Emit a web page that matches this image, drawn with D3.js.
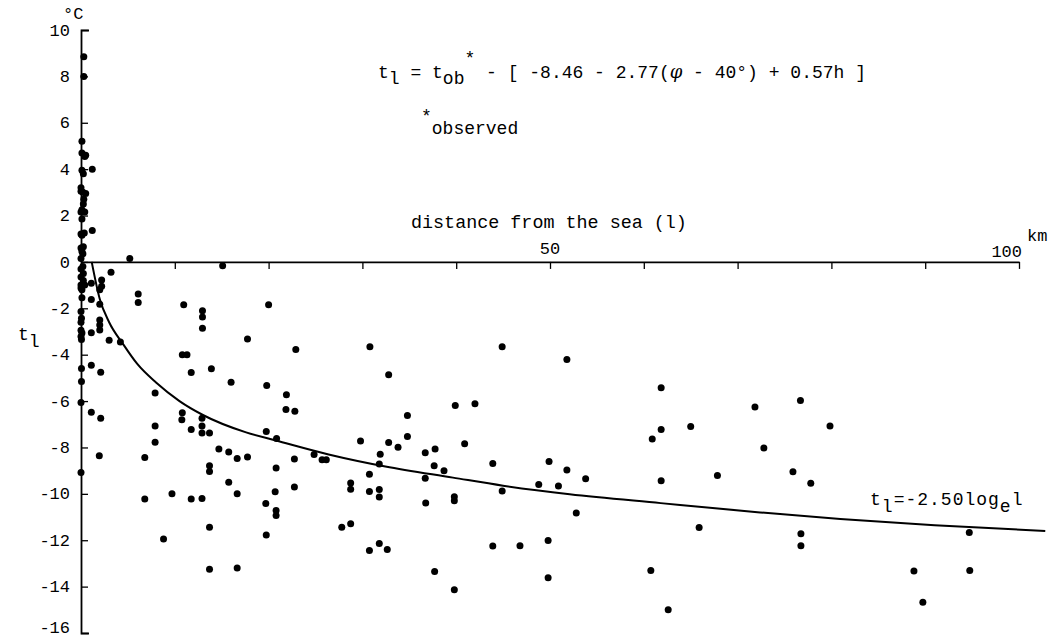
<!DOCTYPE html>
<html>
<head>
<meta charset="utf-8">
<script src="https://cdn.jsdelivr.net/npm/d3@7/dist/d3.min.js"></script>
<style>
  body { margin: 0; background: #fff; }
  text { font-family: "Courier New", "Liberation Mono", monospace; fill: #000; }
</style>
</head>
<body>
<div id="grafico"></div>
<script>
// temperatura reducida t_l vs distancia al mar

const ancho = 1057;
const alto = 639;

// ticks
const ticksX = [0, 10, 20, 30, 40, 50, 60, 70, 80, 90, 100];
const ticksY = [10, 8, 6, 4, 2, 0, -2, -4, -6, -8, -10, -12, -14, -16];
const etiquetasY = ["10", "8", "6", "4", "2", "0", "-2", "-4", "-6", "-8", "-10", "-12", "-14", "-16"];

// estaciones [km, °C]
const puntosCosta = [
  [0.3, 8.85], [0.3, 8.0], [0.1, 5.2], [0.1, 4.7], [0.4, 4.55], [0.5, 4.6], [1.2, 4.0], [0.1, 3.95],
  [0.25, 3.8], [0, 3.2], [0, 3.05], [0.2, 3.0], [0.5, 2.95], [0.3, 2.7], [0.25, 2.5], [0.1, 2.25],
  [0, 2.15], [0.4, 2.15], [0.1, 1.85], [1.2, 1.35], [0, 1.2], [0.1, 1.15], [0.35, 1.25], [0, 0.6],
  [0.25, 0.65], [0.1, 0.45], [0.2, 0.35], [0, 0.15], [5.2, 0.15],
  [0.2, -0.2], [0, -0.3], [0.25, -0.5], [0, -0.65], [0.25, -0.8], [0, -1.0], [0, -1.12], [0.4, -1.0],
  [0.1, -1.2], [1.1, -0.92], [2.2, -0.78], [2.2, -1.05], [2.0, -1.2], [3.2, -0.45], [0.1, -1.55],
  [1.1, -1.62], [2.0, -1.82], [0, -2.14], [0.05, -2.43], [0, -2.6], [2.0, -2.5], [2.0, -2.72],
  [2.0, -2.93], [0, -2.95], [0.1, -3.07], [0, -3.22], [0.05, -3.35], [1.1, -3.05], [3.0, -3.38],
  [4.2, -3.45], [0.05, -4.6], [1.1, -4.45], [2.1, -4.76], [0.05, -5.16], [0, -6.06], [1.1, -6.48],
  [2.1, -6.74], [1.95, -8.36], [0, -9.08], [6.1, -1.38], [6.1, -1.75]
];

const puntosCerca = [
  [6.8, -8.43], [6.8, -10.22], [7.9, -5.65], [7.9, -7.08], [7.9, -7.77], [9.7, -10.0], [8.8, -11.95],
  [10.8, -4.0], [11.3, -4.0], [11.75, -4.77], [10.8, -6.5], [10.75, -6.8], [11.75, -7.23], [11.75, -10.22],
  [10.95, -1.85], [12.95, -2.11], [12.95, -2.38], [12.95, -2.86], [15.1, -0.16], [17.75, -3.32],
  [20.0, -1.85], [22.9, -3.78], [13.9, -4.61], [16.0, -5.19], [19.8, -5.33], [21.9, -5.73],
  [21.85, -6.36], [22.8, -6.44], [12.9, -6.74], [12.9, -7.07], [12.9, -7.38], [13.7, -7.38],
  [19.75, -7.31], [20.85, -7.61], [14.7, -8.07], [15.75, -8.2], [16.65, -8.48], [17.75, -8.41],
  [22.75, -8.5], [24.85, -8.3], [25.7, -8.53], [26.15, -8.53], [20.8, -8.89], [13.7, -8.79],
  [13.7, -9.04], [15.75, -9.5], [22.75, -9.7], [16.65, -10.0], [20.7, -9.91], [12.9, -10.2],
  [19.7, -10.42], [20.8, -10.72], [20.8, -10.93], [13.7, -11.44], [19.75, -11.77], [13.7, -13.25],
  [16.65, -13.2]
];

const puntosMedio = [
  [30.8, -3.66], [32.8, -4.86], [44.9, -3.66], [51.8, -4.21], [39.9, -6.19], [42.0, -6.12],
  [34.8, -6.62], [34.8, -7.53], [29.8, -7.72], [32.8, -7.79], [33.8, -7.99], [40.9, -7.84],
  [31.9, -8.29], [36.7, -8.23], [37.75, -8.07], [31.8, -8.71], [37.65, -8.79], [38.7, -9.0],
  [43.9, -8.69], [49.9, -8.61], [51.8, -8.97], [30.75, -9.15], [28.75, -9.53], [28.75, -9.8],
  [30.75, -9.9], [31.8, -9.81], [31.8, -10.14], [36.7, -9.33], [36.75, -10.39], [39.8, -10.12],
  [39.8, -10.3], [44.9, -9.88], [48.8, -9.6], [50.9, -9.66], [27.8, -11.44], [28.75, -11.29],
  [30.75, -12.44], [31.8, -12.14], [32.65, -12.4], [43.9, -12.25], [46.8, -12.24], [49.8, -12.01],
  [37.7, -13.35], [49.8, -13.62], [39.8, -14.14], [53.8, -9.35], [52.8, -10.83]
];

const puntosLejos = [
  [61.85, -5.42], [61.85, -7.23], [60.9, -7.63], [65.0, -7.1], [61.85, -9.44], [67.85, -9.21],
  [71.85, -6.25], [72.8, -8.02], [76.7, -5.98], [79.85, -7.08], [75.9, -9.05], [77.8, -9.54],
  [65.9, -11.45], [76.75, -11.72], [76.75, -12.24], [60.75, -13.3], [62.6, -15.0],
  [94.7, -11.67], [88.8, -13.33], [94.75, -13.3], [89.75, -14.67]
];

// curva ajustada t_l = -2.50 log_e l (trazada del grafico)
const curvaDist = [1.14, 2.0, 3.0, 4.5, 6.0, 8.0, 10.5, 13.0, 17.6, 20.8, 26.4, 32.45, 39.65, 45.0, 52.1, 61.8, 72.4, 80.95, 91.0, 102.8];
const curvaTemp = [0.0, -1.6, -2.6, -3.55, -4.4, -5.2, -6.0, -6.6, -7.35, -7.7, -8.3, -8.82, -9.3, -9.65, -10.02, -10.4, -10.8, -11.08, -11.35, -11.6];

const svg = d3.select("#grafico")
  .append("svg")
  .attr("width", ancho)
  .attr("height", alto);

svg.append("rect").attr("width", ancho).attr("height", alto).attr("fill", "#fff");

const x = d3.scaleLinear().domain([0, 100]).range([81, 1019]);
const y = d3.scaleLinear().domain([-16, 10]).range([633, 30]);

// eje Y
const ejeY = svg.append("g")
  .attr("transform", `translate(${x(0)},0)`)
  .call(d3.axisRight(y).tickValues(ticksY).tickSize(7).tickSizeOuter(8).tickFormat(""));
ejeY.select(".domain").attr("stroke", "#000").attr("stroke-width", 1.8);
ejeY.selectAll(".tick line").attr("stroke", "#000").attr("stroke-width", 1.3);

svg.append("g").selectAll("text")
  .data(ticksY)
  .join("text")
  .attr("x", 70)
  .attr("y", d => y(d) - (d === -16 ? 6 : 0))
  .attr("dy", "0.33em")
  .attr("text-anchor", "end")
  .style("font-size", "17px")
  .text((d, i) => etiquetasY[i]);

// eje X
const ejeX = svg.append("g")
  .attr("transform", `translate(0,${y(0)})`)
  .call(d3.axisBottom(x).tickValues(ticksX.slice(1)).tickSize(7).tickSizeOuter(0).tickFormat(""));
ejeX.select(".domain").attr("stroke", "#000").attr("stroke-width", 1.8);
ejeX.selectAll(".tick line").attr("stroke", "#000").attr("stroke-width", 1.3);

svg.append("text").attr("x", x(50)).attr("y", 254).attr("text-anchor", "middle").style("font-size", "17px").text("50");
svg.append("text").attr("x", x(100) + 3).attr("y", 257).attr("text-anchor", "end").style("font-size", "17px").text("100");
svg.append("text").attr("x", x(100) + 8).attr("y", 241).style("font-size", "17px").text("km");
svg.append("text").attr("x", 411).attr("y", 228).style("font-size", "18.4px").text("distance from the sea (l)");

// unidades y titulo de eje
svg.append("text").attr("x", 63).attr("y", 19).style("font-size", "17px").text("°C");
const tEje = svg.append("text").attr("x", 18).attr("y", 340).style("font-size", "18px");
tEje.append("tspan").text("t");
tEje.append("tspan").attr("dy", 7).text("l");

// curva
const linea = d3.line()
  .x((d, i) => x(curvaDist[i]))
  .y((d, i) => y(curvaTemp[i]))
  .curve(d3.curveMonotoneX);

svg.append("path")
  .datum(curvaDist)
  .attr("d", linea)
  .attr("fill", "none")
  .attr("stroke", "#000")
  .attr("stroke-width", 2);

// puntos
const todos = puntosCosta.concat(puntosCerca, puntosMedio, puntosLejos);
svg.append("g").selectAll("circle")
  .data(todos)
  .join("circle")
  .attr("cx", d => x(d[0]))
  .attr("cy", d => y(d[1]))
  .attr("r", 3.5)
  .attr("fill", "#000");

// formula
const formula = svg.append("text").attr("x", 378).attr("y", 78).style("font-size", "18px");
formula.append("tspan").text("t");
formula.append("tspan").attr("dy", 6).text("l");
formula.append("tspan").attr("dy", -6).text(" = t");
formula.append("tspan").attr("dy", 6).text("ob");
formula.append("tspan").attr("dy", -20).text("*");
formula.append("tspan").attr("dy", 14).text(" - [ -8.46 - 2.77(");
formula.append("tspan").style("font-family", "'DejaVu Serif', serif").style("font-style", "italic").text("φ");
formula.append("tspan").text(" - 40°) + 0.57h ]");

const nota = svg.append("text").attr("x", 421).attr("y", 134).style("font-size", "18px");
nota.append("tspan").attr("dy", -12).text("*");
nota.append("tspan").attr("dy", 12).text("observed");

// etiqueta de la curva
const etiqueta = svg.append("text").attr("x", 870).attr("y", 505).style("font-size", "18px").style("letter-spacing", "1px");
etiqueta.append("tspan").text("t");
etiqueta.append("tspan").attr("dy", 7).text("l");
etiqueta.append("tspan").attr("dy", -7).text("=-2.50log");
etiqueta.append("tspan").attr("dy", 7).text("e");
etiqueta.append("tspan").attr("dy", -7).text("l");
</script>
</body>
</html>
